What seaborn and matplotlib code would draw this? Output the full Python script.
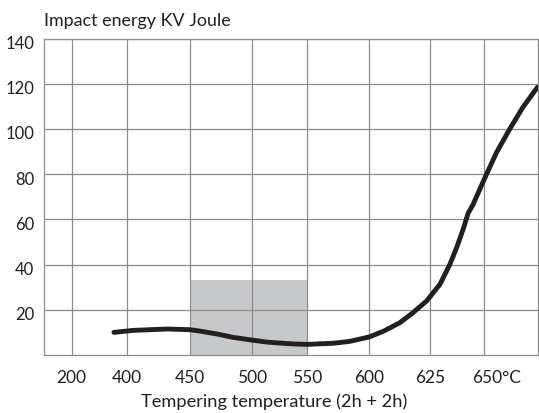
import numpy as np
import matplotlib
matplotlib.use("Agg")
import matplotlib.pyplot as plt
import matplotlib.transforms as mtransforms
import seaborn as sns

# ---- data ----
tick_temps = [200, 400, 450, 500, 550, 600, 625, 650]
tick_labels = ["200", "400", "450", "500", "550", "600", "625", "650°C"]
y_ticks = [20, 40, 60, 80, 100, 120, 140]

curve_temp = [352, 405, 432, 450, 458, 472, 485, 500, 514, 525, 537, 550,
              571, 584, 600, 606, 612.6, 618.1, 623.6, 629.6, 634.2, 637.3,
              640.3, 642.6, 644.9, 650.0, 655.7, 661.8, 667.9, 674.7]
curve_energy = [10.0, 10.9, 11.5, 11.2, 10.6, 9.3, 7.8, 6.6, 5.7, 5.3, 4.9, 4.7,
                5.2, 6.0, 8.0, 10.6, 14.3, 18.8, 23.9, 31.3, 40.2, 47.6,
                55.7, 62.8, 66.7, 77.8, 89.6, 99.9, 109.5, 118.4]

shade_temp = [450, 550]
shade_top = [33, 33]

# broken temperature axis: temperature knots and their relative positions
scale_temps = [100, 200, 400, 450, 500, 550, 600, 625, 650, 675]
scale_pos = [0, 27.5, 83.3, 145.7, 207.7, 263.3, 325.3, 386.0, 440.3, 494.0]

def fwd(t):
    return np.interp(t, scale_temps, scale_pos)

def inv(p):
    return np.interp(p, scale_pos, scale_temps)

sns.set_theme(style="whitegrid")
plt.rcParams['font.family'] = ['Lato', 'DejaVu Sans']

fig = plt.figure(figsize=(5.39, 4.14), dpi=100)
ax = fig.add_axes([44 / 539, 1 - 356 / 414, 494 / 539, (356 - 39.5) / 414])

ax.set_xscale('function', functions=(fwd, inv))
ax.set_xlim(scale_temps[0], scale_temps[-1])
ax.set_ylim(0, 140)

ax.fill_between(shade_temp, 0, shade_top, color="#c7c8ca", linewidth=0, zorder=0.3)
sns.lineplot(x=curve_temp, y=curve_energy, sort=False, ax=ax, color="#231f20",
             linewidth=3.5, zorder=3)

ax.set_axisbelow(True)
ax.grid(True, color="#8c8c8c", linewidth=0.9)
ax.set_xticks(tick_temps)
ax.set_xticklabels(tick_labels)
ax.set_yticks(y_ticks)
ax.tick_params(axis='both', length=0, labelcolor="#231f20")
ax.tick_params(axis='x', pad=10, labelsize=12.5)
ax.tick_params(axis='y', pad=7, labelsize=12)
for s in ax.spines.values():
    s.set_color("#8c8c8c")
    s.set_linewidth(0.9)

# shift the "650°C" label so that "650" sits on its gridline
lbl = ax.get_xticklabels()[-1]
lbl.set_transform(lbl.get_transform() + mtransforms.ScaledTranslation(12 / 100, 0, fig.dpi_scale_trans))
# y labels sit slightly below their gridlines in the original
for yl in ax.get_yticklabels():
    yl.set_transform(yl.get_transform() + mtransforms.ScaledTranslation(0, -3 / 100, fig.dpi_scale_trans))

ax.set_xlabel("Tempering temperature (2h + 2h)", fontsize=13.15, color="#231f20",
              va="baseline")
ax.xaxis.set_label_coords((274.2 - 44) / 494, (356 - 406.7) / 316.5)
ax.set_ylabel("")
fig.text(230.7 / 539, 1 - 26 / 414, "Impact energy KV Joule", ha="right",
         va="baseline", fontsize=12.9, color="#231f20")

fig.savefig("out.png", dpi=100)
